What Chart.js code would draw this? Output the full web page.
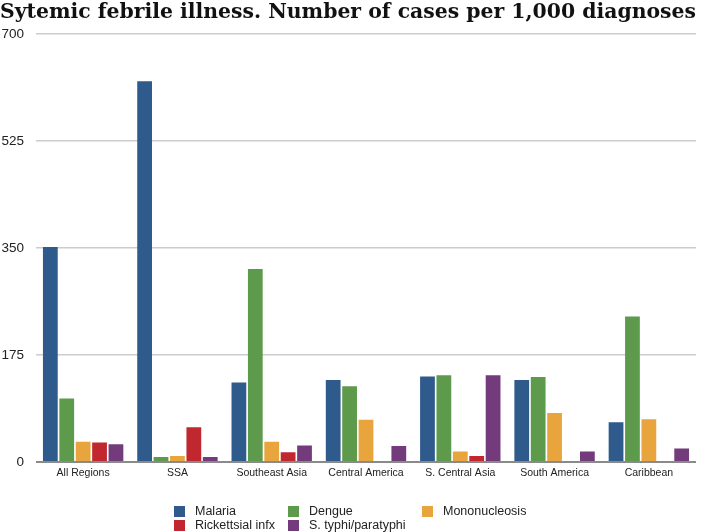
<!DOCTYPE html>
<html lang="en">
<head>
<meta charset="UTF-8">
<title>Sytemic febrile illness</title>
<script src="https://cdn.jsdelivr.net/npm/chart.js"></script>
<style>
    body {
        margin: 0;
        background: #ffffff;
        font-family: "Liberation Sans", Arial, sans-serif;
    }
    .wrap {
        position: relative;
        width: 722px;
        height: 532px;
    }
    #chart {
        position: absolute;
        left: 0;
        top: 0;
    }
    /* legend laid out as a grid like the original */
    .legend {
        position: absolute;
        left: 174px;
        top: 506px;
        display: grid;
        grid-template-columns: 114px 134px 140px;
        row-gap: 3px;
        font-size: 12.5px;
        color: #222;
    }
    .legend span {
        display: flex;
        align-items: center;
        line-height: 11px;
    }
    .legend i {
        display: inline-block;
        width: 11px;
        height: 11px;
        margin-right: 10px;
    }
</style>
</head>
<body>
<div class="wrap">
    <canvas id="chart" width="722" height="532"></canvas>
    <div class="legend" id="legend"></div>
</div>

<script>
const regions = ['All Regions', 'SSA', 'Southeast Asia', 'Central America', 'S. Central Asia', 'South America', 'Caribbean'];

const malaria       = [352, 623, 130, 134, 140, 134, 65];
const dengue        = [104, 8, 316, 124, 142, 139, 238];
const mononucleosis = [33, 10, 33, 69, 17, 80, 70];
const rickettsial   = [32, 57, 16, 0, 10, 0, 0];
const typhi         = [29, 8, 27, 26, 142, 17, 22];

const yTicks = [0, 175, 350, 525, 700];

const seriesNames = ['Malaria', 'Dengue', 'Mononucleosis', 'Rickettsial infx', 'S. typhi/paratyphi'];
const seriesColors = ['#2e5a8c', '#5e9a4b', '#e9a53d', '#c1272f', '#733b7c'];

const chart = new Chart(document.getElementById('chart'), {
    type: 'bar',
    data: {
        labels: regions,
        datasets: [malaria, dengue, mononucleosis, rickettsial, typhi].map((d, i) => ({
            label: seriesNames[i],
            data: d,
            backgroundColor: seriesColors[i],
            borderWidth: 0,
            categoryPercentage: 0.87,
            barPercentage: 0.9
        }))
    },
    options: {
        responsive: false,
        animation: false,
        layout: {
            padding: { left: 0, right: 26, top: 0, bottom: 48 }
        },
        plugins: {
            legend: { display: false },
            tooltip: { enabled: false },
            title: {
                display: true,
                text: 'Sytemic febrile illness. Number of cases per 1,000 diagnoses',
                align: 'start',
                color: '#111',
                font: { family: '"DejaVu Serif", serif', size: 21, weight: 'bold', lineHeight: 1.2 },
                padding: { top: 0, bottom: 9 }
            }
        },
        scales: {
            x: {
                grid: { display: false, drawTicks: false },
                border: { display: false },
                ticks: {
                    color: '#222',
                    font: { family: '"Liberation Sans", Arial, sans-serif', size: 10.5 },
                    padding: 5,
                    maxRotation: 0,
                    autoSkip: false
                },
                afterFit: s => { s.height = 22; }
            },
            y: {
                min: 0,
                max: 700,
                afterBuildTicks: s => { s.ticks = yTicks.map(v => ({ value: v })); },
                grid: {
                    drawTicks: false,
                    color: c => c.tick && c.tick.value === 0 ? '#8a8a8a' : '#cccccc',
                    lineWidth: c => c.tick && c.tick.value === 0 ? 2 : 1.5
                },
                border: { display: false },
                ticks: {
                    color: '#222',
                    font: { family: '"Liberation Sans", Arial, sans-serif', size: 13.5 },
                    padding: 12
                },
                afterFit: s => { s.width = 36; }
            }
        }
    }
});

// html legend built from the chart's datasets
const legendEl = document.getElementById('legend');
chart.data.datasets.forEach(ds => {
    const item = document.createElement('span');
    item.innerHTML = '<i style="background:' + ds.backgroundColor + '"></i>' + ds.label;
    legendEl.appendChild(item);
});
</script>
</body>
</html>
